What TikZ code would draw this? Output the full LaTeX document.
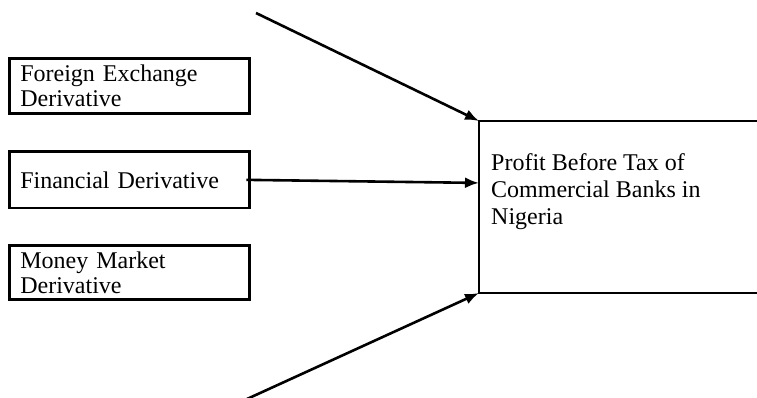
\documentclass[tikz,border=0pt]{standalone}
\usepackage{fontspec}
\setmainfont{Liberation Serif}
\usetikzlibrary{arrows.meta,calc}
\begin{document}
\begin{tikzpicture}[x=1pt,y=-1pt,
  leftbox/.style={draw, line width=2.6pt, outer sep=0pt, anchor=north west,
    minimum width=240pt, text width=218pt, inner xsep=11pt, inner ysep=0pt,
    align=left, font=\fontsize{24}{25}\selectfont},
  bigbox/.style={draw, line width=2.6pt, outer sep=0pt, anchor=north west,
    minimum width=320pt, minimum height=172pt},
  boxtext/.style={anchor=north west, align=left, inner sep=0pt,
    font=\fontsize{24}{26.7}\selectfont},
  arr/.style={line width=2.6pt, -{Latex[length=14pt,width=11pt]}},
]
\useasboundingbox (0,0) rectangle (757,398);

\node[leftbox, minimum height=55pt] (fx) at (9.3,58.3) {Foreign Exchange\\Derivative};
\node[leftbox, minimum height=56.3pt] (fd) at (9.3,151.7) {Financial Derivative};
\node[leftbox, minimum height=54.4pt] (mm) at (9.3,245.3) {Money Market\\Derivative};

\begin{scope}
  \clip (0,0) rectangle (757,398);
  \node[bigbox] (pbt) at (479,121) {};
\end{scope}
\node[boxtext] (pbtlabel) at (491,153.6) {Profit Before Tax of\\Commercial Banks in\\Nigeria};

\coordinate (topstart) at (256,13);
\coordinate (botstart) at (247,399);

\draw[arr] (topstart) -- (pbt.north west);
\draw[arr] ([xshift=-3pt]fd.east) -- ($(pbt.north west)!0.36!(pbt.south west)$);
\draw[arr] (botstart) -- (pbt.south west);
\end{tikzpicture}
\end{document}
